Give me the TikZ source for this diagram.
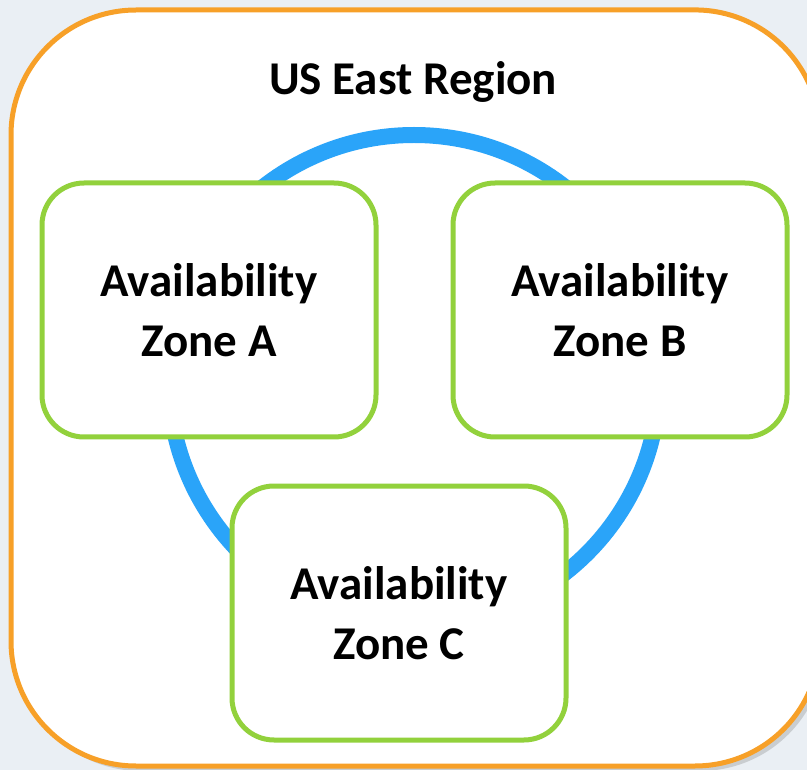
\documentclass[tikz,border=0pt]{standalone}
\usepackage{fontspec}
\setmainfont{Carlito}
\usetikzlibrary{shadows}

\definecolor{regionorange}{RGB}{247,160,40}
\definecolor{zonegreen}{RGB}{146,209,60}
\definecolor{ringblue}{RGB}{42,164,249}
\definecolor{backblue}{RGB}{234,239,244}

% region frame, cut open where it leaves the page on the right
\def\regionframe{(809,83.7) arc[start angle=-24.2, end angle=-90, radius=125]
  -- (136,10) arc[start angle=-90, end angle=-180, radius=125]
  -- (11,641) arc[start angle=180, end angle=90, radius=125]
  -- (695,766) arc[start angle=90, end angle=24.2, radius=125]}

\begin{document}
\begin{tikzpicture}[x=1pt,y=-1pt,
    region/.style={draw=regionorange, line width=5pt},
    regionback/.style={fill=white,
      drop shadow={shadow xshift=5pt, shadow yshift=-5pt, opacity=0.3, fill=gray}},
    zone/.style={draw=zonegreen, line width=5pt, fill=white,
      rounded corners=42pt, minimum width=334pt, minimum height=254pt,
      align=center, font=\bfseries\fontsize{47}{60}\selectfont},
    ring/.style={draw=ringblue, line width=16pt}]
  \fill[backblue] (0,0) rectangle (807,770);
  \useasboundingbox (0,0) rectangle (807,770);
  \path[regionback] \regionframe -- cycle;
  \draw[region] \regionframe;
  \node[anchor=base, font=\bfseries\fontsize{47}{56}\selectfont] (title) at (413,95) {US East Region};
  \draw[ring] (414,380) circle[radius=245];
  \node[zone] (zoneA) at (209,310) {Availability\\Zone A};
  \node[zone] (zoneB) at (620,310) {Availability\\Zone B};
  \node[zone] (zoneC) at (399,613) {Availability\\Zone C};
\end{tikzpicture}
\end{document}
